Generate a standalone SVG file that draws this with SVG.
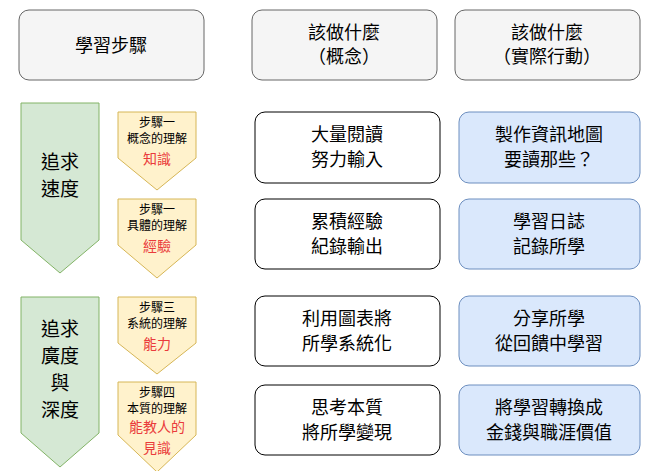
<svg xmlns="http://www.w3.org/2000/svg" width="654" height="471" viewBox="0 0 654 471">
<style>
text{font-family:"Noto Sans CJK TC","Noto Sans CJK SC",sans-serif;text-anchor:middle;fill:#000}
.h{fill:#f5f5f5;stroke:#666;stroke-width:1}
.w{fill:#fff;stroke:#000;stroke-width:1}
.b{fill:#dae8fc;stroke:#6c8ebf;stroke-width:1}
.g{fill:#d5e8d4;stroke:#82b366;stroke-width:1}
.y{fill:#fff2cc;stroke:#d6b656;stroke-width:1}
.t{font-size:18px}
.s{font-size:12px}
.r{font-size:14px;fill:#ea3b3b}
.big{font-size:19px}
</style>
<g id="h1"><rect class="h" x="19" y="10" width="185" height="70" rx="10"/><text class="t" x="111" y="52">學習步驟</text></g>
<g id="h2"><rect class="h" x="252" y="10" width="185" height="70" rx="10"/><text class="t" x="344" y="39">該做什麼</text><text class="t" x="344" y="63">（概念）</text></g>
<g id="h3"><rect class="h" x="455" y="10" width="185" height="70" rx="10"/><text class="t" x="547" y="39">該做什麼</text><text class="t" x="547" y="63">（實際行動）</text></g>
<g id="g1"><path class="g" d="M21 103H99V240L60 273L21 240Z"/><text class="big" x="60" y="169">追求</text><text class="big" x="60" y="196">速度</text></g>
<g id="g2"><path class="g" d="M21 297H99V433L60 467L21 433Z"/><text class="big" x="60" y="336">追求</text><text class="big" x="60" y="363">廣度</text><text class="big" x="60" y="390">與</text><text class="big" x="60" y="417">深度</text></g>
<g id="y1"><path class="y" d="M118 112H196V158L157 190L118 158Z"/><text class="s" x="157" y="127">步驟一</text><text class="s" x="157" y="143">概念的理解</text><text class="r" x="157" y="164">知識</text></g>
<g id="y2"><path class="y" d="M118 199H196V245L157 278L118 245Z"/><text class="s" x="157" y="214">步驟一</text><text class="s" x="157" y="230">具體的理解</text><text class="r" x="157" y="251">經驗</text></g>
<g id="y3"><path class="y" d="M118 297H196V343L157 374L118 343Z"/><text class="s" x="157" y="312">步驟三</text><text class="s" x="157" y="328">系統的理解</text><text class="r" x="157" y="349">能力</text></g>
<g id="y4"><path class="y" d="M118 382H196V435L157 472L118 435Z"/><text class="s" x="157" y="397">步驟四</text><text class="s" x="157" y="413">本質的理解</text><text class="r" x="157" y="432">能教人的</text><text class="r" x="157" y="453">見識</text></g>
<g id="c1"><rect class="w" x="255" y="112" width="185" height="71" rx="10"/><text class="t" x="347" y="141">大量閱讀</text><text class="t" x="347" y="166">努力輸入</text></g>
<g id="c2"><rect class="w" x="255" y="199" width="185" height="70" rx="10"/><text class="t" x="347" y="228">累積經驗</text><text class="t" x="347" y="253">紀錄輸出</text></g>
<g id="c3"><rect class="w" x="255" y="296" width="185" height="70" rx="10"/><text class="t" x="347" y="325">利用圖表將</text><text class="t" x="347" y="350">所學系統化</text></g>
<g id="c4"><rect class="w" x="255" y="385" width="185" height="70" rx="10"/><text class="t" x="347" y="414">思考本質</text><text class="t" x="347" y="439">將所學變現</text></g>
<g id="a1"><rect class="b" x="459" y="112" width="181" height="71" rx="10"/><text class="t" x="549" y="141">製作資訊地圖</text><text class="t" x="549" y="166">要讀那些？</text></g>
<g id="a2"><rect class="b" x="459" y="199" width="181" height="70" rx="10"/><text class="t" x="549" y="228">學習日誌</text><text class="t" x="549" y="253">記錄所學</text></g>
<g id="a3"><rect class="b" x="459" y="296" width="181" height="70" rx="10"/><text class="t" x="549" y="325">分享所學</text><text class="t" x="549" y="350">從回饋中學習</text></g>
<g id="a4"><rect class="b" x="459" y="385" width="181" height="70" rx="10"/><text class="t" x="549" y="414">將學習轉換成</text><text class="t" x="549" y="439">金錢與職涯價值</text></g>
<g id="connectors"/>
</svg>
